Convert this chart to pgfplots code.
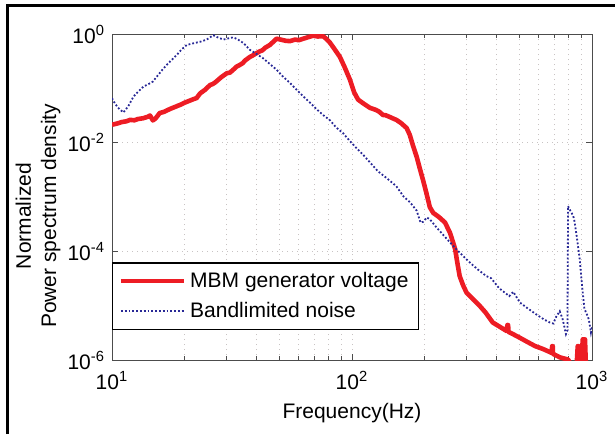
\documentclass[border=0pt]{standalone}
\usepackage{fontspec}
\setmainfont{Liberation Sans}
\usepackage{pgfplots}
\pgfplotsset{compat=1.18}

\definecolor{mbmred}{RGB}{237,28,36}
\definecolor{noiseblue}{RGB}{40,40,150}
\definecolor{gridgray}{RGB}{200,195,195}
\newcommand\chartfont{\fontsize{10.5}{12.6}\selectfont}

\begin{document}
\begin{tikzpicture}
\useasboundingbox (0,0) rectangle (307.5pt,217pt);
\draw[line width=1.5pt] (3.5pt,0) -- (3.5pt,214pt) -- (307.5pt,214pt);
\begin{axis}[
  at={(56pt,37pt)}, anchor=south west,
  scale only axis, width=240pt, height=163pt,
  xmode=log, ymode=log,
  xmin=10, xmax=1000, ymin=1e-6, ymax=1,
  xtick={10,100,1000},
  xticklabels={10\textsuperscript{1},10\textsuperscript{2},10\textsuperscript{3}},
  minor xtick={20,30,40,50,60,70,80,90,200,300,400,500,600,700,800,900},
  ytick={1e-6,1e-4,1e-2,1},
  yticklabels={10\textsuperscript{-6},10\textsuperscript{-4},10\textsuperscript{-2},10\textsuperscript{0}},
  yminorticks=false,
  xmajorgrids, xminorgrids, ymajorgrids,
  grid style={gridgray, dotted, line width=0.5pt},
  major grid style={gridgray, dotted, line width=0.5pt},
  minor grid style={gridgray, dotted, line width=0.5pt},
  axis line style={black!70, line width=0.5pt},
  tick style={black!70, line width=0.5pt},
  major tick length=3pt, minor tick length=1.8pt,
  tick label style={font=\chartfont},
  xticklabel style={yshift=-2pt},
  label style={font=\chartfont},
  xlabel={Frequency(Hz)},
  xlabel style={at={(axis description cs:0.5,-0.163)}, anchor=center},
  ylabel={Normalized\\Power spectrum density},
  ylabel style={at={(axis description cs:-0.154,0.442)}, anchor=center, align=center},
  legend style={at={(0,0.092)}, anchor=south west, draw=black, line width=0.6pt,
    inner xsep=3pt, inner ysep=2.5pt, row sep=2pt, font=\chartfont,
    cells={anchor=west}},
  legend cell align=left,
  legend image code/.code={\draw[#1] (0pt,0pt) -- (31.5pt,0pt);},
]
\addplot[mbmred, line width=2.3pt, line join=round] coordinates {
(10,0.0214) (10.5,0.0225) (11,0.0240) (11.5,0.0248) (11.9,0.0263) (12.4,0.0258)
(12.8,0.0272) (13.5,0.0282) (14.1,0.030) (14.4,0.0316) (14.8,0.0257) (15.2,0.028)
(15.8,0.0351) (16.5,0.037) (17.0,0.0395) (17.5,0.042) (18.6,0.0468) (19.3,0.050)
(20,0.054) (21,0.059) (21.8,0.063) (22.5,0.066) (23.3,0.081) (24.5,0.095)
(25.6,0.115) (26.3,0.120) (27,0.13) (28.5,0.16) (30.1,0.19) (31,0.195) (32,0.22)
(33,0.25) (34.1,0.27) (35,0.29) (36,0.33) (37.6,0.38) (38.5,0.40) (39.5,0.43)
(41.3,0.48) (42.3,0.50) (43.5,0.56) (45.5,0.63) (47,0.72) (48.5,0.82) (51,0.78)
(53,0.75) (55.1,0.74) (58,0.79) (60,0.77) (62.7,0.82) (66,0.88) (68.9,0.93)
(72,0.90) (75.8,0.91) (78,0.82) (80.8,0.70) (84,0.55) (89,0.38) (93,0.25)
(98,0.145) (102,0.085) (106,0.062) (112,0.052) (118.9,0.0437) (126,0.040)
(130,0.037) (134.5,0.0324) (138,0.032) (143,0.030) (148,0.028) (153,0.0263)
(160,0.023) (168.9,0.0186) (174,0.014) (180,0.0085) (186,0.0055) (191.5,0.0034)
(198,0.0020) (204,0.0012) (211,6.5e-4) (218,5.1e-4) (230,4.3e-4) (244,3.4e-4)
(256,2.2e-4) (262,1.6e-4) (269,1.1e-4) (275,6.0e-5) (281,3.5e-5) (290,2.4e-5)
(300,1.74e-5) (320,1.3e-5) (340,1.0e-5) (360,7.5e-6) (386,4.9e-6)
(420,3.9e-6) (442,3.4e-6) (444,4.4e-6) (447,4.4e-6) (449,3.3e-6)
(490,2.7e-6) (533,2.2e-6) (580,1.8e-6) (624,1.6e-6) (680,1.35e-6) (682,1.8e-6)
(686,1.8e-6) (688,1.3e-6) (734,1.12e-6) (795,1.02e-6) (820,8e-7) (860,6e-7) (872,1.8e-6)
(880,1.8e-6) (885,6e-7) (900,6e-7) (915,2.4e-6) (935,2.4e-6) (945,6e-7)
(1000,5e-7)
};
\addlegendentry{MBM generator voltage}
\addplot[noiseblue, line width=0.9pt, densely dotted] coordinates {
(10,0.066) (10.3,0.052) (10.6,0.044) (11.15,0.036) (11.7,0.047) (12.3,0.071)
(13.0,0.091) (13.5,0.107) (14.2,0.12) (14.8,0.133) (15.6,0.178) (16.4,0.234)
(17.5,0.316) (18.6,0.41) (19.5,0.52) (20.5,0.63) (22,0.68) (23.3,0.72)
(24.8,0.79) (26.4,0.95) (27.5,0.87) (29.1,0.79) (30.5,0.83) (32,0.87)
(33.5,0.79) (35.3,0.68) (37.6,0.51) (40,0.43) (42.7,0.355) (45.5,0.28)
(48.5,0.22) (51.5,0.166) (55.1,0.126) (59,0.093) (62.7,0.071) (67,0.054)
(71.3,0.041) (76,0.032) (80.8,0.026) (86,0.019) (91.7,0.015) (98,0.0107)
(106,0.0074) (112,0.0058) (119,0.0043) (128,0.0030) (140,0.0022) (153,0.00158)
(164,0.00102) (175,7.9e-4) (186,5.6e-4) (193,3.4e-4) (198,3.5e-4) (205,4.2e-4)
(211,3.9e-4) (225,2.75e-4) (240,2.0e-4) (264,1.26e-4) (285,8.9e-5) (310,6.2e-5)
(335,4.6e-5) (363,3.5e-5) (380,3.2e-5) (410,2.1e-5) (452,1.5e-5) (470,1.8e-5)
(500,1.15e-5) (540,8.9e-6) (586,6.9e-6) (630,5.6e-6) (667,4.9e-6) (690,4.7e-6)
(710,6.3e-6) (734,7.9e-6) (755,5.6e-6) (779,3.0e-6) (790,3.5e-6) (795,6.8e-4)
(805,6.0e-4) (822,5.1e-4) (835,4.5e-4) (846,3.5e-4) (865,1.8e-4) (889,7.1e-5)
(910,2.2e-5) (930,8.7e-6) (950,7.1e-6) (970,5.6e-6) (990,3.2e-6) (1000,4.0e-6)
};
\addlegendentry{Bandlimited noise}
\end{axis}
\end{tikzpicture}
\end{document}
